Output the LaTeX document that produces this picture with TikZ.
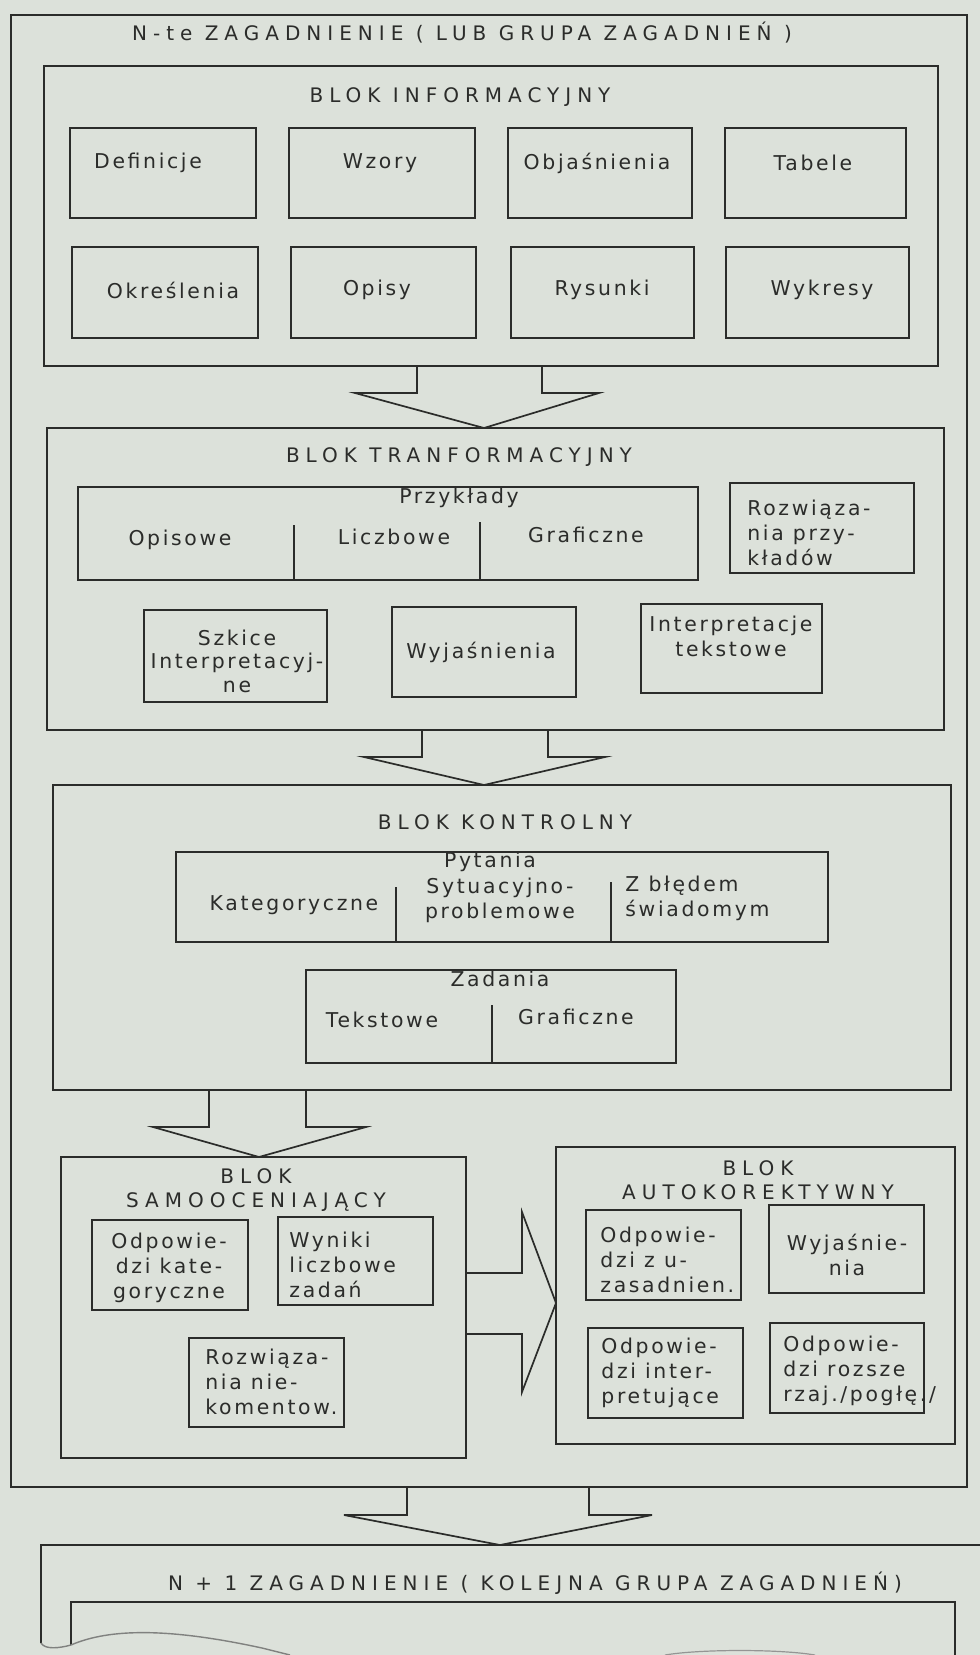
\documentclass[tikz,border=0pt]{standalone}
\usepackage{fontspec}
\setmainfont{DejaVu Sans}[LetterSpace=13]
\newfontfamily\capsfont{DejaVu Sans}[LetterSpace=30]
\definecolor{paper}{HTML}{DCE1DA}
\definecolor{ink}{HTML}{2B2C2A}

\tikzset{
  boxline/.style={draw=ink, line width=1.15pt, inner sep=0pt, outer sep=0pt},
  celltext/.style={text=ink, inner sep=0pt, font=\fontsize{10.2}{12.5}\selectfont},
  capstext/.style={text=ink, inner sep=0pt, align=center, font=\capsfont\fontsize{10}{12}\selectfont},
  arrowline/.style={draw=ink, line width=0.85pt, line join=miter},
}

\newcommand{\blockat}[5]{\node[boxline, minimum width={(#4-#2)*0.5pt}, minimum height={(#5-#3)*0.5pt}] (#1) at ({(#2+#4)/2},{(#3+#5)/2}) {};}
\newcommand{\cellat}[9]{\blockat{#1}{#2}{#3}{#4}{#5}\node[celltext, #8] (#1-txt) at (#6,#7) {#9};}
% source node, tip point, stem x, wing x, wing y
\newcommand{\blockdown}[7]{\draw[arrowline] (#3,0 |- #1.south) -- (#3,#7) -- (#5,#7) -- #2 -- (#6,#7) -- (#4,#7) -- (#4,0 |- #1.south);}

\begin{document}
\begin{tikzpicture}[x=0.5pt, y=-0.5pt]
  \fill[paper] (0,0) rectangle (980,1655);
  \useasboundingbox (0,0) rectangle (980,1655);

  \blockat{outer}{11}{15}{967}{1487}
  \node[capstext] (toptitle) at (462,33) {N-te ZAGADNIENIE ( LUB GRUPA ZAGADNIEŃ )};

  \blockat{info}{44}{66}{938}{366}
  \node[capstext] (infotitle) at (460,97) {BLOK INFORMACYJNY};
  \cellat{def}{70}{128}{256}{218}{148}{163}{}{Definicje}
  \cellat{wzo}{289}{128}{475}{218}{380}{163}{}{Wzory}
  \cellat{obj}{508}{128}{692}{218}{597}{163}{}{Objaśnienia}
  \cellat{tab}{725}{128}{906}{218}{813}{163}{}{Tabele}
  \cellat{okr}{72}{247}{258}{338}{173}{290}{}{Określenia}
  \cellat{ops}{291}{247}{476}{338}{377}{290}{}{Opisy}
  \cellat{rys}{511}{247}{694}{338}{602}{290}{}{Rysunki}
  \cellat{wyk}{726}{247}{909}{338}{822}{290}{}{Wykresy}

  \blockat{trans}{47}{428}{944}{730}
  \node[capstext] (transtitle) at (459,457) {BLOK TRANFORMACYJNY};
  \blockat{prz}{78}{487}{698}{580}
  \node[celltext] (prztitle) at (459,498) {Przykłady};
  \draw[boxline] (294,525) -- (294,0 |- prz.south);
  \draw[boxline] (480,522) -- (480,0 |- prz.south);
  \node[celltext] (pop) at (180,540) {Opisowe};
  \node[celltext] (pli) at (394,537) {Liczbowe};
  \node[celltext] (pgr) at (586,535) {Graficzne};
  \cellat{rozw}{730}{483}{914}{573}{747}{533}{align=left, anchor=west}{Rozwiąza-\\nia przy-\\kładów}
  \cellat{szk}{144}{610}{327}{702}{237}{661}{align=center, font=\fontsize{10.2}{11.8}\selectfont}{Szkice\\Interpretacyj-\\ne}
  \cellat{wyj}{392}{607}{576}{697}{481}{652}{}{Wyjaśnienia}
  \cellat{itx}{641}{604}{822}{693}{731}{636}{align=center}{Interpretacje\\tekstowe}

  \blockat{kontr}{53}{785}{951}{1090}
  \node[capstext] (kontrtitle) at (505,822) {BLOK KONTROLNY};
  \blockat{pyt}{176}{852}{828}{942}
  \node[celltext] (pyttitle) at (490,862) {Pytania};
  \draw[boxline] (396,887) -- (396,0 |- pyt.south);
  \draw[boxline] (611,882) -- (611,0 |- pyt.south);
  \node[celltext] (pka) at (294,905) {Kategoryczne};
  \node[celltext, align=center] (psy) at (500,900) {Sytuacyjno-\\problemowe};
  \node[celltext, align=left, anchor=west] (pzb) at (625,898) {Z błędem\\świadomym};
  \blockat{zad}{306}{970}{676}{1063}
  \node[celltext] (zadtitle) at (500,979) {Zadania};
  \draw[boxline] (492,1005) -- (492,0 |- zad.south);
  \node[celltext] (zte) at (382,1020) {Tekstowe};
  \node[celltext] (zgr) at (576,1017) {Graficzne};

  \blockat{samo}{61}{1157}{466}{1458}
  \node[capstext] (samotitle) at (256,1190) {BLOK\\SAMOOCENIAJĄCY};
  \cellat{okat}{92}{1220}{248}{1310}{169}{1268}{align=center}{Odpowie-\\dzi kate-\\goryczne}
  \cellat{wyn}{278}{1217}{433}{1305}{289}{1265}{align=left, anchor=west}{Wyniki\\liczbowe\\zadań}
  \cellat{rnk}{189}{1338}{344}{1427}{205}{1382}{align=left, anchor=west}{Rozwiąza-\\nia nie-\\komentow.}

  \blockat{auto}{556}{1147}{955}{1444}
  \node[capstext] (autotitle) at (758,1180) {BLOK\\AUTOKOREKTYWNY};
  \cellat{ouz}{586}{1210}{741}{1300}{600}{1260}{align=left, anchor=west}{Odpowie-\\dzi z u-\\zasadnien.}
  \cellat{wyj2}{769}{1205}{924}{1293}{847}{1255}{align=center}{Wyjaśnie-\\nia}
  \cellat{oint}{588}{1328}{743}{1418}{601}{1373}{align=left, anchor=west}{Odpowie-\\dzi inter-\\pretujące}
  \cellat{orz}{770}{1323}{924}{1413}{783}{1371}{align=left, anchor=west}{Odpowie-\\dzi rozsze\\rzaj./pogłę./}

  \coordinate (next) at (500,1545);
  \blockdown{info}{(484,0 |- trans.north)}{417}{542}{355}{599}{393}
  \blockdown{trans}{(484,0 |- kontr.north)}{422}{548}{364}{605}{757}
  \blockdown{kontr}{(259,0 |- samo.north)}{209}{306}{153}{366}{1127}
  \blockdown{outer}{(next)}{407}{589}{344}{652}{1515}
  \draw[arrowline] (samo.east |- 0,1273) -- (522,1273) -- (522,1212) -- (auto.west |- 0,1303) -- (522,1392) -- (522,1334) -- (samo.east |- 0,1334);

  \draw[boxline] (41,1643) -- (41,1545) -- (980,1545);
  \draw[boxline] (71,1645) -- (71,1602) -- (955,1602) -- (955,1655);
  \node[capstext] (nexttitle) at (535,1583) {N + 1 ZAGADNIENIE ( KOLEJNA GRUPA ZAGADNIEŃ)};
  \draw[ink!60, line width=0.7pt] (41,1643) .. controls (45,1650) and (60,1648) .. (71,1645) .. controls (110,1628) and (170,1628) .. (262,1648) -- (290,1655);
  \draw[ink!50, line width=0.6pt] (665,1655) .. controls (700,1649) and (780,1649) .. (815,1655);
\end{tikzpicture}
\end{document}
